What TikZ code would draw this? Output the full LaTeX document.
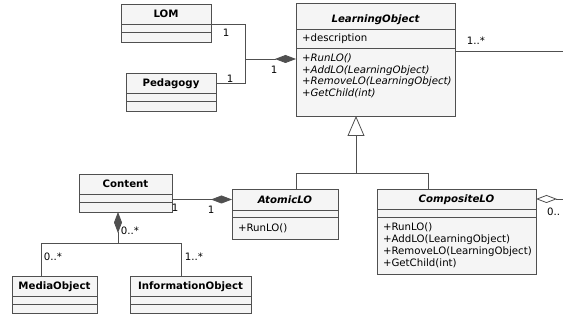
\documentclass[tikz,border=0pt]{standalone}
\usepackage{fontspec}
\setmainfont{DejaVu Sans}
\usetikzlibrary{positioning,arrows.meta}
\definecolor{boxfill}{HTML}{F5F5F5}
\definecolor{boxline}{HTML}{505050}
\newcommand{\umlfont}{\fontsize{10.2}{11.8}\selectfont}
\tikzset{
  umlpart/.style={draw=boxline, fill=boxfill, line width=0.8pt, outer sep=0pt, inner xsep=6pt, inner ysep=0pt, font=\umlfont},
  umltitle/.style={umlpart, font=\umlfont\bfseries, text height=7.4pt, text depth=0pt},
  abstracttitle/.style={umltitle, font=\umlfont\bfseries\itshape},
  members/.style={umlpart, align=left},
  assoc/.style={draw=boxline, line width=0.8pt},
  mult/.style={font=\umlfont, inner sep=0pt},
  compose/.style={{Diamond[length=21pt, width=8pt]}-},
  aggregate/.style={{Diamond[open, length=21pt, width=8pt]}-},
  generalize/.style={-{Triangle[open, length=20pt, width=17pt]}}
}
\begin{document}
\begin{tikzpicture}[x=1pt, y=-1pt]
\useasboundingbox (0,0) rectangle (563,320);

% classes
\node[umltitle, minimum width=90pt, minimum height=20pt, anchor=north] (LOMt) at (166,4) {LOM};
\node[umlpart, minimum width=90pt, minimum height=8pt, below=0pt of LOMt] (LOMa) {};
\node[umlpart, minimum width=90pt, minimum height=10pt, below=0pt of LOMa] (LOMm) {};

\node[umltitle, minimum width=90pt, minimum height=20pt, anchor=north] (PEt) at (171,73) {Pedagogy};
\node[umlpart, minimum width=90pt, minimum height=8pt, below=0pt of PEt] (PEa) {};
\node[umlpart, minimum width=90pt, minimum height=10pt, below=0pt of PEa] (PEm) {};

\node[abstracttitle, text height=13.4pt, minimum width=159pt, minimum height=26pt, anchor=north] (LOt) at (375.5,3) {LearningObject};
\node[members, text width=147pt, minimum height=19pt, below=0pt of LOt] (LOa) {+description};
\node[umlpart, minimum width=159pt, minimum height=68pt, below=0pt of LOa] (LOm) {};
\node[members, draw=none, fill=none, anchor=north west, font=\umlfont\itshape] (LOmtext) at ([yshift=-5.5pt]LOm.north west) {+RunLO()\\+AddLO(LearningObject)\\+RemoveLO(LearningObject)\\+GetChild(int)};

\node[umltitle, minimum width=93pt, minimum height=20pt, anchor=north] (CTt) at (125.5,174) {Content};
\node[umlpart, minimum width=93pt, minimum height=8pt, below=0pt of CTt] (CTa) {};
\node[umlpart, minimum width=93pt, minimum height=10pt, below=0pt of CTa] (CTm) {};

\node[abstracttitle, minimum width=106pt, minimum height=21pt, anchor=north] (ATt) at (285,189) {AtomicLO};
\node[umlpart, minimum width=106pt, minimum height=7pt, below=0pt of ATt] (ATa) {};
\node[members, text width=94pt, minimum height=22pt, below=0pt of ATa] (ATm) {+RunLO()};

\node[abstracttitle, minimum width=159pt, minimum height=20pt, anchor=north] (CLt) at (456.5,189) {CompositeLO};
\node[umlpart, minimum width=159pt, minimum height=8pt, below=0pt of CLt] (CLa) {};
\node[members, text width=147pt, minimum height=57pt, below=0pt of CLa] (CLm) {+RunLO()\\+AddLO(LearningObject)\\+RemoveLO(LearningObject)\\+GetChild(int)};

\node[umltitle, minimum width=85pt, minimum height=20pt, anchor=north] (MOt) at (54.5,276) {MediaObject};
\node[umlpart, minimum width=85pt, minimum height=8pt, below=0pt of MOt] (MOa) {};
\node[umlpart, minimum width=85pt, minimum height=9pt, below=0pt of MOa] (MOm) {};

\node[umltitle, minimum width=121pt, minimum height=20pt, anchor=north] (IOt) at (190.5,276) {InformationObject};
\node[umlpart, minimum width=121pt, minimum height=8pt, below=0pt of IOt] (IOa) {};
\node[umlpart, minimum width=121pt, minimum height=9pt, below=0pt of IOa] (IOm) {};

% LOM and Pedagogy into LearningObject
\coordinate (LOjoin) at (245,59);
\draw[assoc] (LOMt.south east) -| (LOjoin);
\draw[assoc] (PEt.east) -| (LOjoin);
\draw[assoc, compose] (LOm.west |- LOjoin) -- (LOjoin);
\node[mult] (mLOM) at (226,33) {1};
\node[mult] (mPE) at (230,79) {1};
\node[mult] (mLO) at (274,70) {1};

\coordinate (LOout) at (563,51);
\draw[assoc] (LOm.east |- LOout) -- (LOout);
\node[mult] (mLOout) at (476,41) {1..*};

% generalization
\coordinate (genmid) at (356,173);
\coordinate (genL) at (296,173);
\coordinate (genR) at (428,173);
\draw[assoc, generalize] (genmid) -- (genmid |- LOm.south);
\draw[assoc] (genL |- ATt.north) -- (genL) -- (genR) -- (genR |- CLt.north);

% Content
\draw[assoc, compose] (ATt.west) -- (ATt.west -| CTt.east);
\node[mult] (mCT) at (175,208) {1};
\node[mult] (mAT) at (211,210) {1};

\coordinate (CTjoin) at (118,243);
\coordinate (MOjoin) at (41,243);
\coordinate (IOjoin) at (181,243);
\draw[assoc, compose] (CTjoin |- CTm.south) -- (CTjoin);
\draw[assoc] (MOjoin |- MOt.north) -- (MOjoin) -- (IOjoin) -- (IOjoin |- IOt.north);
\node[mult] (mCTb) at (130,231) {0..*};
\node[mult] (mMO) at (53,257) {0..*};
\node[mult] (mIO) at (194,257) {1..*};

% CompositeLO children
\coordinate (CLout) at (563,199);
\draw[assoc, aggregate] (CLt.east) -- (CLt.east -| CLout);
\node[mult, anchor=west] (mCL) at (547,212) {0..};
\end{tikzpicture}
\end{document}
